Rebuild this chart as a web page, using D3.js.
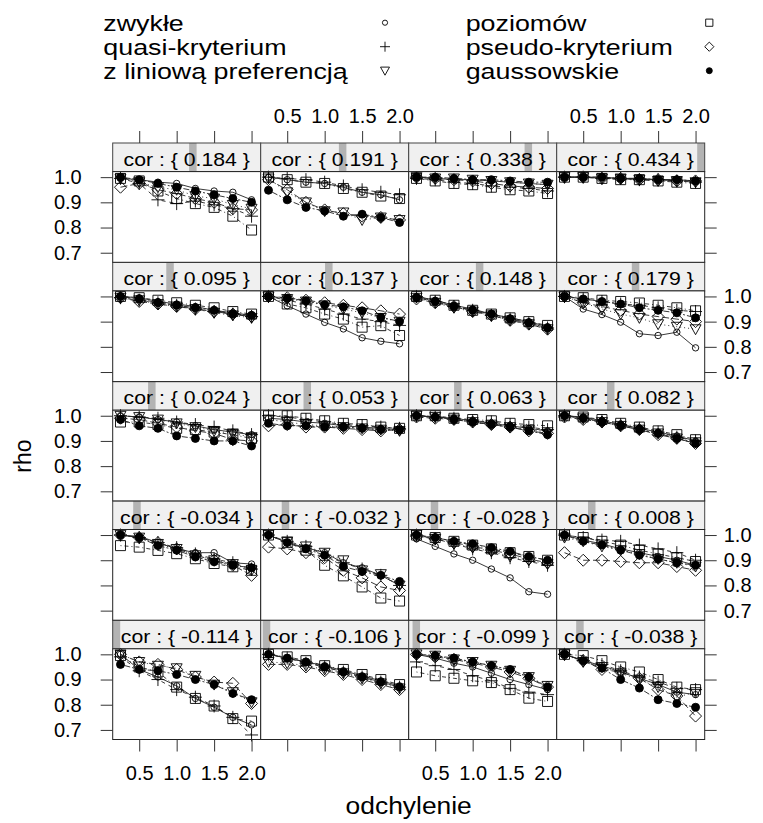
<!DOCTYPE html>
<html lang="pl">
<head>
<meta charset="utf-8" />
<title>rho vs odchylenie</title>
<script src="https://d3js.org/d3.v7.min.js"></script>
<style>
  body { margin: 0; background: #fff; }
  svg text { font-family: "Liberation Sans", Arial, sans-serif; fill: #000; }
</style>
</head>
<body>
<script>
// x values (odchylenie) shared by every panel
const xValues = [0.25, 0.5, 0.75, 1.0, 1.25, 1.5, 1.75, 2.0];
const xTicks = [0.5, 1.0, 1.5, 2.0];
const yTicks = [0.7, 0.8, 0.9, 1.0];
// panel levels (cor), lattice order: bottom-left first
const corLevels = [-0.114, -0.106, -0.099, -0.038, -0.034, -0.032, -0.028, 0.008,
  0.024, 0.053, 0.063, 0.082, 0.095, 0.137, 0.148, 0.179, 0.184, 0.191, 0.338, 0.434];
const seriesNames = ["zwykłe", "quasi-kryterium", "z liniową preferencją",
  "poziomów", "pseudo-kryterium", "gaussowskie"];

// rho per panel (same order as corLevels), one array per series
const zwykle = [
  [1.0,0.94,0.91,0.875,0.825,0.79,0.75,0.72], [1.0,0.985,0.97,0.955,0.935,0.915,0.895,0.875],
  [1.0,0.985,0.965,0.95,0.925,0.9,0.88,0.86], [1.0,0.975,0.955,0.93,0.905,0.88,0.85,0.84],
  [1.0,0.995,0.97,0.945,0.93,0.93,0.89,0.885], [1.0,0.97,0.95,0.93,0.89,0.87,0.84,0.8],
  [0.985,0.955,0.925,0.9,0.865,0.83,0.775,0.765], [1.0,0.98,0.965,0.945,0.93,0.915,0.9,0.88],
  [1.0,0.995,0.985,0.975,0.96,0.945,0.935,0.925], [0.99,0.985,0.975,0.97,0.96,0.955,0.95,0.945],
  [1.0,0.995,0.99,0.98,0.97,0.96,0.95,0.94], [1.0,0.995,0.98,0.965,0.95,0.935,0.92,0.9],
  [1.0,0.995,0.98,0.97,0.96,0.945,0.935,0.925], [1.0,0.963,0.93,0.897,0.871,0.836,0.822,0.812],
  [1.0,0.985,0.965,0.95,0.93,0.915,0.9,0.88], [1.0,0.95,0.928,0.898,0.852,0.845,0.858,0.796],
  [0.995,0.99,0.98,0.975,0.955,0.945,0.94,0.91], [1.0,0.99,0.98,0.975,0.96,0.94,0.93,0.91],
  [1.0,0.995,0.99,0.99,0.985,0.98,0.975,0.97], [1.0,1.0,1.0,0.995,0.995,0.99,0.99,0.985]
];
const quasi = [
  [0.99,0.935,0.9,0.86,0.83,0.795,0.75,0.68], [1.0,0.985,0.965,0.95,0.93,0.91,0.89,0.87],
  [0.97,0.955,0.94,0.915,0.895,0.865,0.85,0.84], [1.0,0.975,0.96,0.935,0.91,0.89,0.865,0.86],
  [1.0,0.99,0.97,0.95,0.925,0.905,0.89,0.865], [1.0,0.975,0.955,0.92,0.89,0.865,0.84,0.8],
  [1.0,0.985,0.965,0.945,0.93,0.91,0.895,0.88], [1.0,0.99,0.98,0.975,0.96,0.945,0.93,0.9],
  [1.0,0.995,0.99,0.975,0.965,0.955,0.94,0.925], [1.0,0.995,0.985,0.975,0.965,0.96,0.955,0.95],
  [1.0,0.995,0.99,0.98,0.975,0.965,0.955,0.945], [1.0,0.99,0.98,0.965,0.95,0.935,0.915,0.9],
  [0.995,0.985,0.975,0.965,0.95,0.94,0.93,0.92], [1.0,0.985,0.97,0.95,0.93,0.91,0.9,0.885],
  [1.0,0.98,0.96,0.945,0.925,0.91,0.895,0.875], [1.0,0.99,0.98,0.97,0.965,0.955,0.945,0.94],
  [0.995,0.975,0.91,0.895,0.905,0.89,0.875,0.845], [1.0,0.995,0.99,0.98,0.965,0.95,0.94,0.93],
  [0.995,0.99,0.98,0.975,0.965,0.96,0.955,0.945], [1.0,1.0,0.995,0.995,0.99,0.99,0.985,0.98]
];
const liniowa = [
  [1.0,0.97,0.955,0.945,0.915,0.88,0.85,0.81], [0.97,0.965,0.955,0.94,0.925,0.905,0.885,0.865],
  [1.0,0.995,0.98,0.97,0.955,0.935,0.91,0.875], [1.0,0.97,0.95,0.925,0.9,0.87,0.83,0.85],
  [1.0,0.99,0.965,0.945,0.92,0.9,0.885,0.86], [1.0,0.975,0.955,0.93,0.9,0.86,0.845,0.8],
  [1.0,0.985,0.965,0.95,0.935,0.915,0.9,0.885], [0.99,0.975,0.955,0.94,0.925,0.905,0.89,0.875],
  [1.0,0.995,0.985,0.97,0.955,0.94,0.93,0.915], [0.985,0.975,0.965,0.96,0.955,0.95,0.945,0.94],
  [1.0,0.995,0.985,0.975,0.965,0.955,0.945,0.935], [1.0,0.99,0.975,0.96,0.945,0.93,0.91,0.895],
  [0.995,0.985,0.97,0.96,0.95,0.935,0.925,0.915], [1.0,0.99,0.98,0.965,0.95,0.935,0.915,0.9],
  [0.995,0.975,0.955,0.94,0.925,0.905,0.89,0.87], [1.0,0.975,0.95,0.93,0.915,0.89,0.88,0.87],
  [0.995,0.98,0.96,0.95,0.925,0.915,0.89,0.875], [0.995,0.94,0.9,0.865,0.86,0.83,0.84,0.83],
  [1.0,0.995,0.995,0.99,0.985,0.98,0.975,0.97], [1.0,1.0,0.995,0.995,0.99,0.985,0.985,0.98]
];
const poziomow = [
  [0.995,0.95,0.93,0.87,0.825,0.795,0.745,0.735], [1.0,0.99,0.975,0.955,0.94,0.92,0.9,0.88],
  [0.93,0.915,0.905,0.895,0.888,0.86,0.826,0.813], [1.0,0.995,0.975,0.95,0.93,0.9,0.87,0.86],
  [0.958,0.952,0.939,0.926,0.906,0.887,0.874,0.86], [1.0,0.97,0.94,0.88,0.838,0.794,0.75,0.738],
  [1.0,0.99,0.975,0.96,0.945,0.93,0.915,0.9], [1.0,0.99,0.975,0.96,0.94,0.925,0.91,0.895],
  [0.975,0.975,0.965,0.95,0.945,0.935,0.925,0.91], [1.0,1.0,0.99,0.98,0.97,0.965,0.955,0.95],
  [1.0,1.0,0.99,0.985,0.98,0.97,0.965,0.96], [1.0,0.995,0.985,0.97,0.955,0.94,0.925,0.905],
  [1.0,0.995,0.985,0.975,0.965,0.955,0.94,0.93], [1.0,0.97,0.955,0.93,0.91,0.878,0.884,0.845],
  [1.0,0.985,0.965,0.945,0.93,0.915,0.9,0.885], [1.0,0.995,0.985,0.98,0.974,0.965,0.955,0.943],
  [0.995,0.985,0.945,0.915,0.895,0.88,0.845,0.79], [1.0,0.99,0.98,0.975,0.955,0.94,0.925,0.915],
  [0.995,0.985,0.975,0.97,0.96,0.95,0.945,0.935], [1.0,1.0,0.995,0.99,0.99,0.985,0.98,0.975]
];
const pseudo = [
  [1.0,0.97,0.96,0.94,0.91,0.89,0.885,0.805], [0.96,0.96,0.95,0.935,0.92,0.9,0.88,0.86],
  [1.0,0.99,0.98,0.965,0.95,0.93,0.905,0.87], [1.0,0.975,0.94,0.93,0.905,0.86,0.835,0.755],
  [1.0,0.99,0.97,0.945,0.92,0.9,0.88,0.84], [0.952,0.945,0.93,0.91,0.86,0.83,0.794,0.78],
  [0.995,0.985,0.97,0.955,0.94,0.925,0.905,0.89], [0.93,0.9,0.9,0.895,0.89,0.89,0.875,0.86],
  [0.99,0.985,0.97,0.955,0.94,0.93,0.905,0.9], [0.96,0.965,0.955,0.955,0.95,0.945,0.94,0.945],
  [0.995,0.99,0.985,0.975,0.965,0.955,0.94,0.93], [0.995,0.985,0.975,0.96,0.945,0.925,0.91,0.89],
  [0.995,0.98,0.97,0.96,0.95,0.94,0.93,0.92], [1.0,0.995,0.985,0.975,0.965,0.955,0.943,0.93],
  [0.99,0.975,0.96,0.94,0.925,0.905,0.89,0.87], [1.0,0.975,0.96,0.945,0.93,0.92,0.91,0.9],
  [0.96,0.975,0.95,0.935,0.915,0.9,0.875,0.87], [0.99,0.95,0.9,0.87,0.855,0.845,0.84,0.83],
  [1.0,0.995,0.99,0.985,0.975,0.965,0.96,0.955], [1.0,1.0,0.995,0.995,0.99,0.99,0.985,0.985]
];
const gauss = [
  [0.96,0.94,0.935,0.92,0.9,0.88,0.845,0.82], [1.0,0.985,0.97,0.95,0.93,0.91,0.89,0.87],
  [1.0,0.995,0.985,0.97,0.955,0.94,0.91,0.87], [1.0,0.975,0.945,0.9,0.866,0.82,0.805,0.79],
  [1.0,0.99,0.958,0.94,0.913,0.894,0.88,0.87], [1.0,0.97,0.945,0.92,0.875,0.855,0.84,0.816],
  [1.0,0.99,0.975,0.965,0.95,0.935,0.915,0.9], [1.0,0.975,0.96,0.94,0.92,0.905,0.89,0.88],
  [0.985,0.96,0.95,0.92,0.91,0.9,0.9,0.88], [0.97,0.96,0.96,0.955,0.955,0.95,0.945,0.945],
  [1.0,0.995,0.985,0.975,0.965,0.955,0.94,0.925], [1.0,0.99,0.975,0.96,0.945,0.93,0.91,0.89],
  [1.0,0.99,0.975,0.965,0.955,0.945,0.93,0.925], [1.0,0.993,0.983,0.967,0.959,0.943,0.917,0.901],
  [0.995,0.98,0.96,0.945,0.93,0.91,0.895,0.875], [1.0,0.99,0.98,0.97,0.955,0.945,0.935,0.915],
  [1.0,0.99,0.975,0.96,0.945,0.93,0.915,0.9], [0.948,0.91,0.88,0.866,0.845,0.853,0.84,0.82],
  [1.0,1.0,0.995,0.99,0.99,0.985,0.98,0.98], [1.0,1.0,1.0,0.995,0.995,0.99,0.99,0.985]
];
const seriesData = [zwykle, quasi, liniowa, poziomow, pseudo, gauss];

// ---- layout ----
const width = 763, height = 823;
const left = 112.7, panelW = 148;
const top0 = 143, pitch = 119.3, stripH = 28.6, panelH = 90.7;
const nCols = 4, nRows = 5;
const tick = 12;

const shapes = ["circle", "plus", "triangle", "square", "diamond", "dot"];
const dashes = [null, "4,4", "1,3", "1,3,4,3", "7,3", "2,2,6,2"];

function shapePath(shape, s) {
  if (shape === "circle" || shape === "dot")
    return `M${s},0A${s},${s} 0 1,1 ${-s},0A${s},${s} 0 1,1 ${s},0Z`;
  if (shape === "square") return `M${-s},${-s}H${s}V${s}H${-s}Z`;
  if (shape === "diamond") return `M0,${-s}L${s},0L0,${s}L${-s},0Z`;
  if (shape === "triangle") return `M${-s},${-s * 0.8}L${s},${-s * 0.8}L0,${s}Z`;
  return `M${-s},0H${s}M0,${-s}V${s}`; // plus
}
const panelSize = { circle: 3.2, plus: 6.5, triangle: 5.5, square: 5, diamond: 6, dot: 4 };
const legendSize = { circle: 2.6, plus: 5, triangle: 4.5, square: 3.6, diamond: 4.6, dot: 3 };

const svg = d3.select("body").append("svg")
  .attr("width", width).attr("height", height);

const x = d3.scaleLinear().domain([0.146, 2.122]).range([0, panelW]);
const y = d3.scaleLinear().domain([0.662, 1.022]).range([panelH, 0]);
const corFrac = d3.scaleLinear().domain(d3.extent(corLevels)).range([0, 1]);
// plain hyphen minus, as in the original strips
const corFmt = v => d3.format(".3f")(v).replace("\u2212", "-");

const line = d3.line().x(d => x(d[0])).y(d => y(d[1]));

corLevels.forEach((cor, i) => {
  const col = i % nCols;
  const rowTop = nRows - 1 - Math.floor(i / nCols); // row index from top
  const sx = left + col * panelW;
  const sy = top0 + rowTop * pitch;
  const py = sy + stripH;

  // strip
  const strip = svg.append("g").attr("transform", `translate(${sx},${sy})`);
  strip.append("rect").attr("width", panelW).attr("height", stripH)
    .attr("fill", "#f0f0f0");
  const barW = 7.5;
  strip.append("rect")
    .attr("x", corFrac(cor) * (panelW - barW)).attr("width", barW)
    .attr("height", stripH).attr("fill", "#b3b3b3");
  strip.append("rect").attr("width", panelW).attr("height", stripH)
    .attr("fill", "none").attr("stroke", "#444").attr("stroke-width", 1);
  strip.append("text")
    .attr("transform", `translate(${panelW / 2},${stripH - 6}) scale(1.18,1)`)
    .attr("text-anchor", "middle").attr("font-size", 18)
    .text(`cor : { ${corFmt(cor)} }`);

  // panel
  const g = svg.append("g").attr("transform", `translate(${sx},${py})`);
  g.append("rect").attr("width", panelW).attr("height", panelH)
    .attr("fill", "#fff");

  seriesData.forEach((series, k) => {
    const pts = xValues.map((xv, j) => [xv, series[i][j]]);
    g.append("path").datum(pts)
      .attr("d", line).attr("fill", "none")
      .attr("stroke", "#222").attr("stroke-width", 0.9)
      .attr("stroke-dasharray", dashes[k]);
    g.selectAll(null).data(pts).enter().append("path")
      .attr("transform", d => `translate(${x(d[0])},${y(d[1])})`)
      .attr("d", shapePath(shapes[k], panelSize[shapes[k]]))
      .attr("fill", shapes[k] === "dot" ? "#000" : "none")
      .attr("stroke", "#000").attr("stroke-width", 0.9);
  });

  g.append("rect").attr("width", panelW).attr("height", panelH)
    .attr("fill", "none").attr("stroke", "#222").attr("stroke-width", 1);

  // axes: lattice style alternating labels
  const fmt = d3.format(".1f");
  if (rowTop === 0) {
    svg.append("g").attr("transform", `translate(${sx},${sy})`)
      .call(d3.axisTop(x).tickValues(xTicks).tickSize(tick).tickPadding(8)
        .tickFormat(col % 2 === 1 ? fmt : () => ""));
  }
  if (rowTop === nRows - 1) {
    svg.append("g").attr("transform", `translate(${sx},${py + panelH})`)
      .call(d3.axisBottom(x).tickValues(xTicks).tickSize(tick).tickPadding(14)
        .tickFormat(col % 2 === 0 ? fmt : () => ""));
  }
  if (col === 0) {
    svg.append("g").attr("transform", `translate(${sx},${py})`)
      .call(d3.axisLeft(y).tickValues(yTicks).tickSize(tick).tickPadding(19)
        .tickFormat(rowTop % 2 === 0 ? fmt : () => ""));
  }
  if (col === nCols - 1) {
    svg.append("g").attr("transform", `translate(${sx + panelW},${py})`)
      .call(d3.axisRight(y).tickValues(yTicks).tickSize(tick).tickPadding(7)
        .tickFormat(rowTop % 2 === 1 ? fmt : () => ""));
  }
});

svg.selectAll(".domain").remove();
svg.selectAll(".tick line").attr("stroke", "#333");
svg.selectAll(".tick text").attr("font-size", 20)
  .attr("font-family", "'Liberation Sans', Arial, sans-serif").attr("fill", "#000");

// axis titles
svg.append("text")
  .attr("transform", `translate(${left + nCols * panelW / 2},814) scale(1.1,1)`)
  .attr("text-anchor", "middle").attr("font-size", 24).text("odchylenie");
svg.append("text")
  .attr("transform", `translate(31,456) rotate(-90)`)
  .attr("text-anchor", "middle").attr("font-size", 23).text("rho");

// legend
const legendCols = [{ tx: 103.3, sx: 385 }, { tx: 465.7, sx: 709.3 }];
const legendRows = [22.7, 46.7, 70.7];
seriesNames.forEach((name, k) => {
  const c = legendCols[Math.floor(k / 3)];
  const ry = legendRows[k % 3];
  svg.append("text")
    .attr("transform", `translate(${c.tx},${ry + 8.5}) scale(1.22,1)`)
    .attr("font-size", 22).text(name);
  svg.append("path")
    .attr("transform", `translate(${c.sx},${ry})`)
    .attr("d", shapePath(shapes[k], legendSize[shapes[k]]))
    .attr("fill", shapes[k] === "dot" ? "#000" : "none")
    .attr("stroke", "#000").attr("stroke-width", 0.9);
});
</script>
</body>
</html>
